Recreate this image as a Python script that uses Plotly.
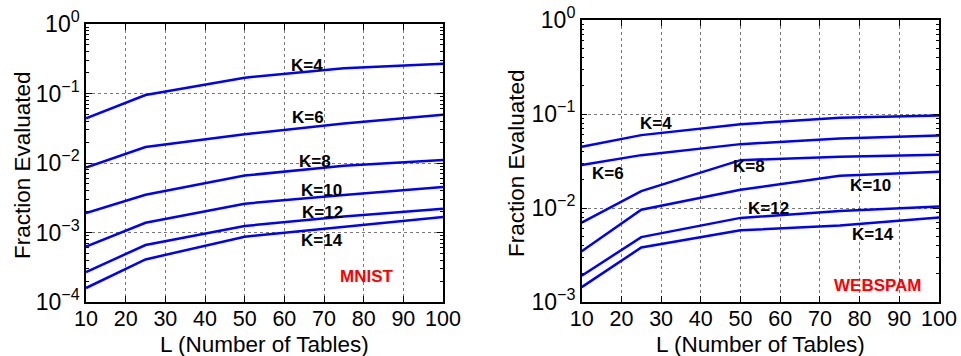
import plotly.graph_objects as go

# Number of hash tables L
L_values = [10, 25, 50, 75, 100]

# Fraction of data points evaluated, MNIST
mnist_k = ["K=4", "K=6", "K=8", "K=10", "K=12", "K=14"]
mnist_k4 = [0.044, 0.095, 0.169, 0.23, 0.268]
mnist_k6 = [0.0086, 0.017, 0.026, 0.037, 0.0496]
mnist_k8 = [0.0019, 0.0035, 0.0066, 0.0091, 0.011]
mnist_k10 = [0.000625, 0.00138, 0.0026, 0.00347, 0.0045]
mnist_k12 = [0.00027, 0.00066, 0.00124, 0.0017, 0.0022]
mnist_k14 = [0.000159, 0.00041, 0.00087, 0.0012, 0.00167]

# Fraction of data points evaluated, WEBSPAM
webspam_k4 = [0.0448, 0.0596, 0.078, 0.091, 0.0966]
webspam_k6 = [0.0286, 0.0365, 0.0478, 0.055, 0.059]
webspam_k8 = [0.007, 0.0151, 0.0323, 0.035, 0.0368]
webspam_k10 = [0.00347, 0.0096, 0.0156, 0.022, 0.0243]
webspam_k12 = [0.0019, 0.0049, 0.00785, 0.0093, 0.0104]
webspam_k14 = [0.00144, 0.0038, 0.0058, 0.0065, 0.0079]

# Label anchor points (L, log10 fraction)
mnist_label_x = [65.6, 66.0, 67.7, 69.4, 69.7, 69.4]
mnist_label_y = [-0.60, -1.35, -1.98, -2.40, -2.71, -3.11]
webspam_label_x = [28.6, 16.5, 52.2, 82.8, 57.1, 83.4]
webspam_label_y = [-1.10, -1.63, -1.555, -1.765, -2.005, -2.28]

FONT = "Liberation Sans, Arial, Helvetica, sans-serif"
BLUE = "#0000ff"

fig = go.Figure()

mnist_series = [mnist_k4, mnist_k6, mnist_k8, mnist_k10, mnist_k12, mnist_k14]
webspam_series = [webspam_k4, webspam_k6, webspam_k8, webspam_k10, webspam_k12, webspam_k14]

for name, ys in zip(mnist_k, mnist_series):
    fig.add_trace(go.Scatter(x=L_values, y=ys, mode="lines", name=name,
                             line=dict(color=BLUE, width=2.5),
                             xaxis="x", yaxis="y", showlegend=False))
for name, ys in zip(mnist_k, webspam_series):
    fig.add_trace(go.Scatter(x=L_values, y=ys, mode="lines", name=name,
                             line=dict(color=BLUE, width=2.5),
                             xaxis="x2", yaxis="y2", showlegend=False))


def minor_vals(lo, hi):
    vals = []
    for p in range(lo, hi):
        for m in range(2, 10):
            vals.append(m * 10 ** p)
    return vals


def log_axis(lo, hi, domain, anchor):
    tv = [10 ** p for p in range(lo, hi + 1)]
    tt = ["10<sup>%s</sup>" % (str(p) if p >= 0 else "\u2212" + str(-p)) for p in range(lo, hi + 1)]
    return dict(type="log", range=[lo, hi], domain=domain, anchor=anchor,
                automargin=False,
                tickmode="array", tickvals=tv, ticktext=tt,
                ticks="inside", ticklen=6, tickcolor="black",
                showline=True, linecolor="black", linewidth=1.5, mirror="ticks",
                showgrid=True, gridcolor="#777777", griddash="dot", gridwidth=1,
                zeroline=False,
                minor=dict(tickmode="array", tickvals=minor_vals(lo, hi),
                           ticks="inside", ticklen=3, tickcolor="black", showgrid=False),
                tickfont=dict(family=FONT, size=23, color="black"))


def lin_axis(domain, anchor):
    return dict(range=[10, 100], domain=domain, anchor=anchor,
                automargin=False,
                tickmode="array", tickvals=list(range(10, 101, 10)),
                ticks="inside", ticklen=6, tickcolor="black",
                showline=True, linecolor="black", linewidth=1.5, mirror="ticks",
                showgrid=True, gridcolor="#777777", griddash="dot", gridwidth=1,
                zeroline=False, ticklabelstandoff=-4,
                tickfont=dict(family=FONT, size=21.5, color="black"))


annotations = []
for txt, x, y in zip(mnist_k, mnist_label_x, mnist_label_y):
    annotations.append(dict(x=x, y=y, xref="x", yref="y", text="<b>%s</b>" % txt,
                            showarrow=False, font=dict(family=FONT, size=17, color="black")))
for txt, x, y in zip(mnist_k, webspam_label_x, webspam_label_y):
    annotations.append(dict(x=x, y=y, xref="x2", yref="y2", text="<b>%s</b>" % txt,
                            showarrow=False, font=dict(family=FONT, size=17, color="black")))

annotations.append(dict(x=80.8, y=-3.64, xref="x", yref="y", text="<b>MNIST</b>",
                        showarrow=False, font=dict(family=FONT, size=17, color="red")))
annotations.append(dict(x=84.7, y=-2.82, xref="x2", yref="y2", text="<b>WEBSPAM</b>",
                        showarrow=False, font=dict(family=FONT, size=17, color="red")))

# axis titles
for xc in [264.5 / 961, 760 / 961]:
    annotations.append(dict(x=xc, y=(356 - 344) / 356, xref="paper", yref="paper",
                            xanchor="center", yanchor="middle",
                            text="L (Number of Tables)", showarrow=False,
                            font=dict(family=FONT, size=22.5, color="black")))
for xc, yc in [(22 / 961, 165 / 356), (517 / 961, 163 / 356)]:
    annotations.append(dict(x=xc, y=1 - yc, xref="paper", yref="paper",
                            xanchor="center", yanchor="middle",
                            text="Fraction Evaluated", textangle=-90, showarrow=False,
                            font=dict(family=FONT, size=22.5, color="black")))

fig.update_layout(
    width=961, height=356,
    margin=dict(l=0, r=0, t=0, b=0, autoexpand=False),
    paper_bgcolor="white", plot_bgcolor="white",
    xaxis=lin_axis([86 / 961, 443 / 961], "y"),
    yaxis=log_axis(-4, 0, [54 / 356, 332 / 356], "x"),
    xaxis2=lin_axis([581.7 / 961, 939 / 961], "y2"),
    yaxis2=log_axis(-3, 0, [54 / 356, 336 / 356], "x2"),
    annotations=annotations,
)

fig.write_html("out.html")
